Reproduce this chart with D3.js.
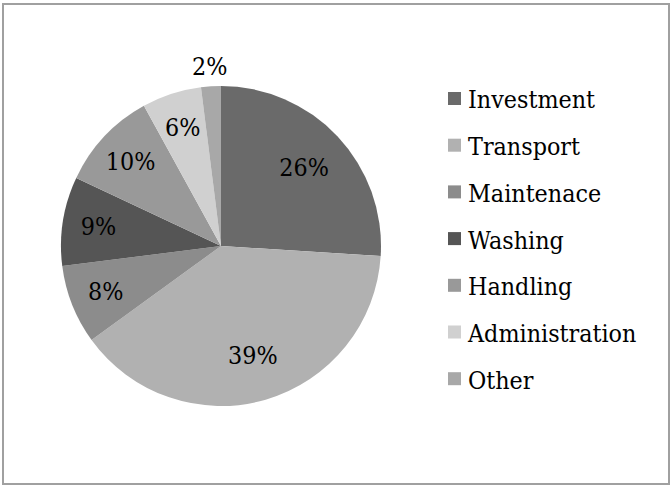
<!DOCTYPE html>
<html>
<head>
<meta charset="utf-8">
<script src="https://cdn.jsdelivr.net/npm/d3@7"></script>
<style>
  html, body { margin: 0; padding: 0; background: #fff; }
  svg { display: block; font-family: "DejaVu Serif", serif; }
</style>
</head>
<body>
<div id="chart"></div>
<script>
// cost shares, clockwise from 12 o'clock
const categories = ['Investment', 'Transport', 'Maintenace', 'Washing', 'Handling', 'Administration', 'Other'];
const shares = [26, 39, 8, 9, 10, 6, 2];
const colors = ['#6a6a6a', '#b1b1b1', '#8c8c8c', '#555555', '#999999', '#d0d0d0', '#a8a8a8'];

const width = 671, height = 486;
const cx = 221, cy = 246, radius = 160;
const squeeze = 0.93; // the source font is taller and narrower than DejaVu Serif

const svg = d3.select('#chart').append('svg')
  .attr('width', width)
  .attr('height', height);

// chart frame
svg.append('rect')
  .attr('x', 3).attr('y', 4)
  .attr('width', 666).attr('height', 480)
  .attr('fill', '#fff')
  .attr('stroke', '#a0a0a0')
  .attr('stroke-width', 2);

const color = d3.scaleOrdinal().domain(categories).range(colors);

const pie = d3.pie().sort(null).value(d => d.value);
const arcs = pie(categories.map((c, i) => ({ name: c, value: shares[i] })));

const arc = d3.arc().innerRadius(0).outerRadius(radius);
const bigArc = d3.arc().innerRadius(114).outerRadius(114);
const labelArc = d3.arc().innerRadius(124).outerRadius(124);
const outerArc = d3.arc().innerRadius(180).outerRadius(180);

const g = svg.append('g').attr('transform', `translate(${cx},${cy})`);

g.selectAll('path.slice')
  .data(arcs)
  .enter().append('path')
  .attr('class', 'slice')
  .attr('d', arc)
  .attr('fill', d => color(d.data.name));

// percent labels, tiny slices go outside like Excel's best fit
g.selectAll('text.pct')
  .data(arcs)
  .enter().append('text')
  .attr('class', 'pct')
  .attr('transform', d => {
    const a = d.data.value < 3 ? outerArc : (d.data.value > 20 ? bigArc : labelArc);
    const p = a.centroid(d);
    return `translate(${p[0]},${p[1]}) scale(${squeeze},1)`;
  })
  .attr('dy', '0.35em')
  .attr('text-anchor', 'middle')
  .style('font-size', '24px')
  .style('fill', '#000')
  .text(d => d.data.value + '%');

// legend
const legend = svg.append('g').attr('transform', 'translate(448,100)');
const rowStep = 46.7;

const rows = legend.selectAll('g.item')
  .data(categories)
  .enter().append('g')
  .attr('class', 'item')
  .attr('transform', (d, i) => `translate(0,${i * rowStep})`);

rows.append('rect')
  .attr('x', 0).attr('y', -8)
  .attr('width', 13).attr('height', 13)
  .attr('fill', d => color(d));

rows.append('text')
  .attr('transform', `translate(20,0) scale(${squeeze},1)`)
  .attr('dy', '0.35em')
  .style('font-size', '24px')
  .style('fill', '#000')
  .text(d => d);
</script>
</body>
</html>
